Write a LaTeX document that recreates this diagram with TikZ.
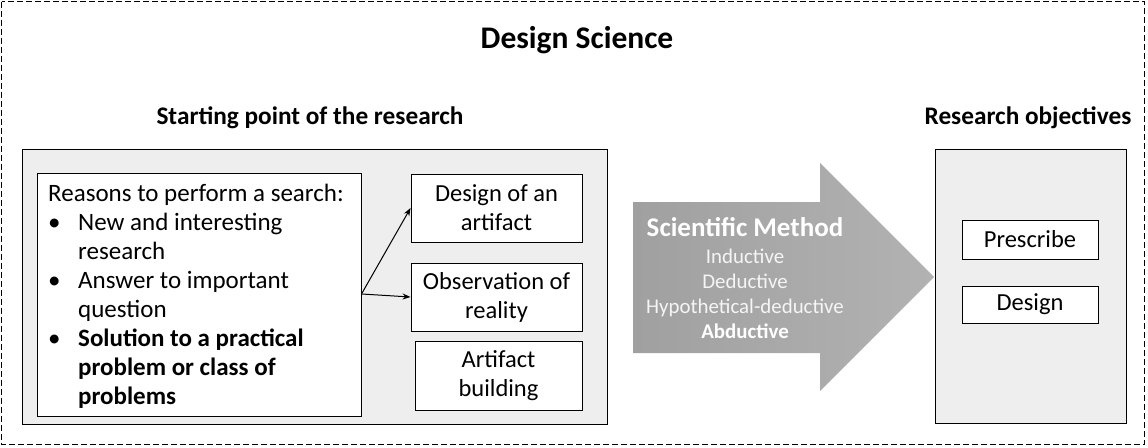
\documentclass[tikz,border=0pt]{standalone}
\usepackage{fontspec}
\setmainfont{Carlito}
\usetikzlibrary{arrows.meta}
\definecolor{boxgray}{RGB}{238,238,238}
\definecolor{arrowdark}{RGB}{160,160,160}
\definecolor{arrowlight}{RGB}{178,178,178}
\definecolor{softwhite}{RGB}{245,245,245}
\begin{document}
\begin{tikzpicture}[x=1pt,y=-1pt,
  panel/.style={draw=black,line width=0.9pt,fill=boxgray,inner sep=0pt},
  itembox/.style={draw=black,line width=0.9pt,fill=white,align=center,inner sep=0pt,
    font=\fontsize{24.5}{29}\selectfont},
  heading/.style={font=\fontsize{25.3}{29}\bfseries\selectfont,inner sep=0pt},
  conn/.style={line width=1pt,-{Stealth[length=8pt,width=6pt]}}
]
\useasboundingbox (0,0) rectangle (1148,447);
\draw[dash pattern=on 6pt off 3pt,line width=0.8pt] (1.5,1.5) rectangle (1144.5,444);

\node[font=\fontsize{31.5}{36}\bfseries\selectfont,inner sep=0pt] (title) at (577,40) {Design Science};
\node[heading] (hleft) at (310,118) {Starting point of the research};
\node[heading] (hright) at (1028,118) {Research objectives};

% left panel
\node[panel,minimum width=585pt,minimum height=275pt] (lpanel) at (314.5,286.5) {};
\node[itembox,minimum width=324pt,minimum height=243pt] (reasons) at (199,294.5) {};
\node[anchor=north west,inner sep=0pt,align=left,font=\fontsize{25}{29}\selectfont] (rtext) at (48,184)
{Reasons to perform a search:\\
\makebox[30pt][l]{•}New and interesting\\
\hspace*{30pt}research\\
\makebox[30pt][l]{•}Answer to important\\
\hspace*{30pt}question\\
\makebox[30pt][l]{•}\textbf{Solution to a practical}\\
\hspace*{30pt}\textbf{problem or class of}\\
\hspace*{30pt}\textbf{problems}};

\node[itembox,minimum width=171pt,minimum height=68pt] (design) at (496.5,208) {Design of an\\artifact};
\node[itembox,minimum width=171pt,minimum height=68pt] (obs) at (496.5,297) {Observation of\\reality};
\node[itembox,minimum width=167pt,minimum height=69pt] (build) at (498.5,375.5) {Artifact\\building};

\coordinate (fork) at (361.5,294);
\draw[conn] (fork) -- (design.west);
\draw[conn] (fork) -- (obs.west);

% big arrow
\shade[left color=arrowdark,right color=arrowlight]
  (633,202) -- (820,202) -- (820,163) -- (934,277) -- (820,391) -- (820,353) -- (633,353) -- cycle;
\node[inner sep=0pt,text=white,font=\fontsize{27}{30}\bfseries\selectfont] (sm) at (745,227) {Scientific Method};
\node[inner sep=0pt,text=softwhite,align=center,font=\fontsize{20.9}{25}\selectfont,anchor=north] (methods) at (745,249)
{Inductive\\Deductive\\Hypothetical-deductive\\\textbf{\color{white}Abductive}};

% right panel
\node[panel,minimum width=191pt,minimum height=274pt] (rpanel) at (1030.5,286) {};
\node[itembox,minimum width=136pt,minimum height=39pt] (prescribe) at (1030,239.5) {Prescribe};
\node[itembox,minimum width=136pt,minimum height=37pt] (dsgn) at (1030,304.5) {Design};
\end{tikzpicture}
\end{document}
